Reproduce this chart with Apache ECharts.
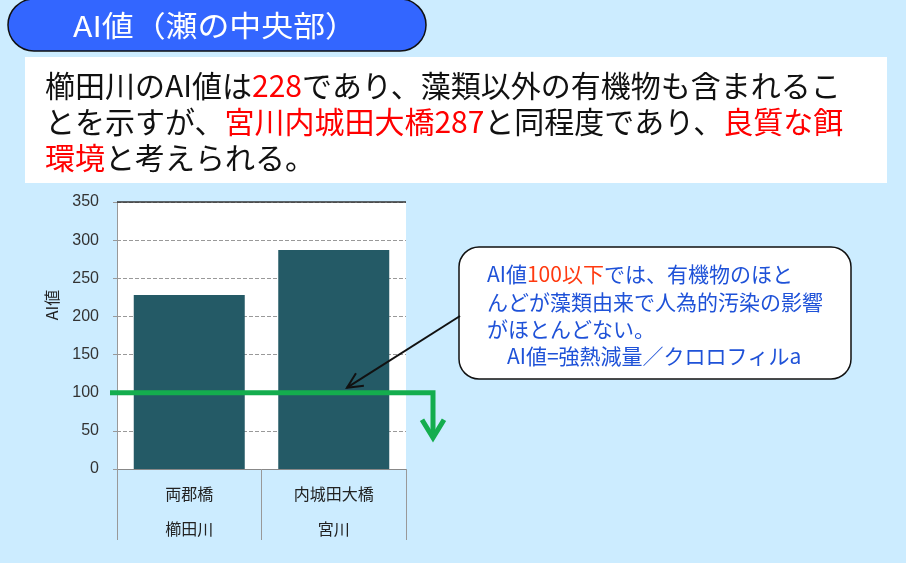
<!DOCTYPE html>
<html>
<head>
<meta charset="utf-8">
<script src="https://cdn.jsdelivr.net/npm/echarts@6/dist/echarts.min.js"></script>
<style>
  html, body { margin: 0; padding: 0; background: #ccecff; }
  #chart { width: 906px; height: 563px; }
</style>
</head>
<body>
<div id="chart"></div>
<script>
// Sites and their AI values
const sites = ['両郡橋', '内城田大橋'];
const rivers = ['櫛田川', '宮川'];
const aiValues = [228, 287];
// Threshold below which organic matter is mostly algal
const threshold = 100;
// Value axis range and step
const yMin = 0;
const yMax = 350;
const yStep = 50;

const JP = '"Noto Sans CJK JP", "Noto Sans", sans-serif';

const chart = echarts.init(document.getElementById('chart'));

chart.setOption({
  backgroundColor: '#ccecff',
  animation: false,
  grid: {
    left: 117, top: 202, width: 289, height: 267,
    show: true, backgroundColor: '#ffffff', borderWidth: 0
  },
  xAxis: {
    type: 'category',
    data: sites,
    axisLine: { lineStyle: { color: '#888', width: 1 } },
    axisTick: { show: true, length: 71, interval: 0, lineStyle: { color: '#999' } },
    axisLabel: {
      interval: 0,
      formatter: (v, i) => v + '\n' + rivers[i],
      lineHeight: 35,
      margin: 7,
      fontSize: 16,
      color: '#222',
      fontFamily: JP
    }
  },
  yAxis: {
    type: 'value',
    min: yMin, max: yMax, interval: yStep,
    axisLine: { show: true, lineStyle: { color: '#999' } },
    axisTick: { show: true, length: 4, lineStyle: { color: '#999' } },
    axisLabel: { fontSize: 16, color: '#333', margin: 18, fontFamily: 'Liberation Sans, Arial, sans-serif' },
    splitLine: { show: true, lineStyle: { type: 'dashed', color: '#999', width: 1 } }
  },
  series: [{
    type: 'bar',
    data: aiValues,
    barWidth: 111,
    itemStyle: { color: '#245a66' },
    markLine: {
      silent: true,
      symbol: 'none',
      label: { show: false },
      lineStyle: { color: '#333', type: 'solid', width: 1.5 },
      data: [{ yAxis: yMax }]
    }
  }]
});

// Overlay annotations: title pill, comment box, threshold line, callout
const yThr = chart.convertToPixel({ yAxisIndex: 0 }, threshold);
const plotRight = chart.convertToPixel({ xAxisIndex: 0 }, sites.length - 1) + 72.25;
const bendX = plotRight + 27;

// Callout arrow geometry
const tip = [347, yThr - 5];
const tail = [460, 316];
const dx = tail[0] - tip[0], dy = tail[1] - tip[1];
const len = Math.hypot(dx, dy);
const ux = dx / len, uy = dy / len;
const headLen = 17, spread = 0.45;
function rot(x, y, a) { return [x * Math.cos(a) - y * Math.sin(a), x * Math.sin(a) + y * Math.cos(a)]; }
const w1 = rot(ux, uy, spread), w2 = rot(ux, uy, -spread);

const bodyStyle = (txt, y) => ({
  type: 'text', x: 45, y: y, z: 10,
  style: {
    text: txt,
    font: '30px ' + JP,
    fill: '#111',
    verticalAlign: 'middle',
    rich: {
      k: { fill: '#111', fontSize: 30, fontFamily: JP },
      r: { fill: '#ff0000', fontSize: 30, fontFamily: JP }
    }
  }
});

const noteText = (txt, x, y) => ({
  type: 'text', x: x, y: y, z: 12,
  style: {
    text: txt,
    font: '21px ' + JP,
    fill: '#1f52d8',
    verticalAlign: 'middle',
    rich: {
      b: { fill: '#1f52d8', fontSize: 21, fontFamily: JP },
      o: { fill: '#ff3a10', fontSize: 21, fontFamily: JP }
    }
  }
});

chart.setOption({
  graphic: [
    // title pill
    { type: 'rect', z: 10, shape: { x: 8, y: -1, width: 418, height: 52, r: 26 },
      style: { fill: '#3366ff', stroke: '#111', lineWidth: 1.5 } },
    { type: 'text', z: 11, x: 73, y: 26, scaleX: 1.1,
      style: { text: 'AI値（瀬の中央部）', font: '29px ' + JP, fill: '#ffffff', verticalAlign: 'middle' } },
    // comment box
    { type: 'rect', z: 9, shape: { x: 25, y: 57, width: 862, height: 126 },
      style: { fill: '#ffffff' } },
    bodyStyle('{k|櫛田川のAI値は}{r|228}{k|であり、藻類以外の有機物も含まれるこ}', 86),
    bodyStyle('{k|とを示すが、}{r|宮川内城田大橋287}{k|と同程度であり、}{r|良質な餌}', 122),
    bodyStyle('{r|環境}{k|と考えられる。}', 158),
    // y axis title
    { type: 'text', z: 10, x: 52, y: 305, rotation: Math.PI / 2,
      style: { text: 'AI値', font: '16px ' + JP, fill: '#222', align: 'center', verticalAlign: 'middle' } },
    // threshold line with downward arrow
    { type: 'polyline', z: 20,
      shape: { points: [[110, yThr], [bendX, yThr], [bendX, yThr + 44]] },
      style: { stroke: '#14ad4e', lineWidth: 5, fill: null, lineJoin: 'miter' } },
    { type: 'polyline', z: 20,
      shape: { points: [[bendX - 11, yThr + 27], [bendX, yThr + 45], [bendX + 11, yThr + 27]] },
      style: { stroke: '#14ad4e', lineWidth: 5, fill: null, lineJoin: 'miter' } },
    // callout pointer
    { type: 'line', z: 21,
      shape: { x1: tail[0], y1: tail[1], x2: tip[0], y2: tip[1] },
      style: { stroke: '#111', lineWidth: 2 } },
    { type: 'polyline', z: 21,
      shape: { points: [[tip[0] + w1[0] * headLen, tip[1] + w1[1] * headLen], tip, [tip[0] + w2[0] * headLen, tip[1] + w2[1] * headLen]] },
      style: { stroke: '#111', lineWidth: 2, fill: null } },
    // callout box
    { type: 'rect', z: 11, shape: { x: 459, y: 247, width: 392, height: 132, r: 20 },
      style: { fill: '#ffffff', stroke: '#111', lineWidth: 1.5 } },
    noteText('{b|AI値}{o|100以下}{b|では、有機物のほと}', 487, 274),
    noteText('{b|んどが藻類由来で人為的汚染の影響}', 487, 302),
    noteText('{b|がほとんどない。}', 487, 329),
    noteText('{b|AI値=強熱減量／クロロフィルa}', 507, 356)
  ]
});
</script>
</body>
</html>
